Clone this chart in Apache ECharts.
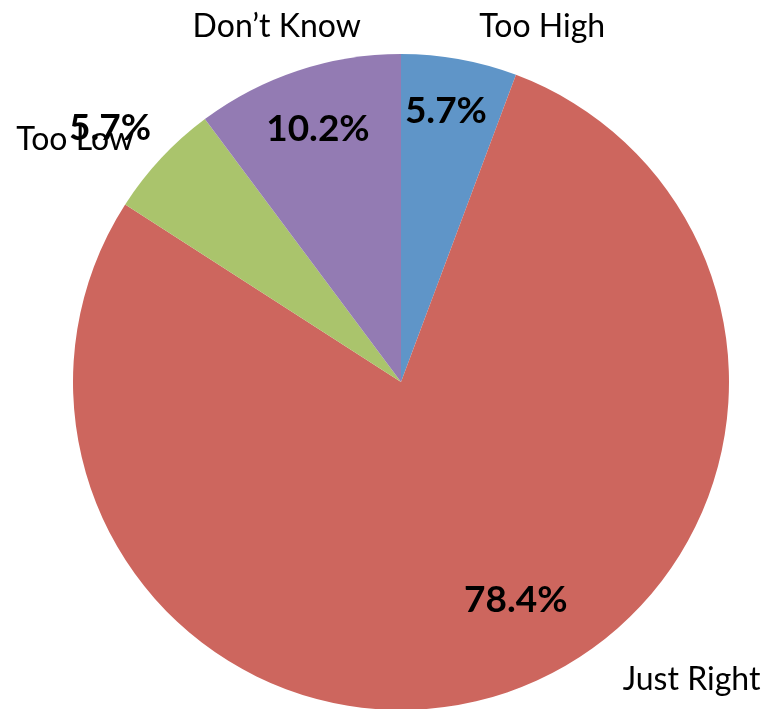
<!DOCTYPE html>
<html>
<head>
<meta charset="utf-8">
<script src="https://cdn.jsdelivr.net/npm/echarts@6/dist/echarts.min.js"></script>
<style>
html,body{margin:0;padding:0;background:#fff;}
#chart{width:771px;height:709px;}
</style>
</head>
<body>
<div id="chart"></div>
<script>
// Data
const categories = ['Too High', 'Just Right', 'Too Low', "Don\u2019t Know"];
const values = [5.7, 78.4, 5.7, 10.2];
const percentLabels = ['5.7%', '78.4%', '5.7%', '10.2%'];

// Style
const colors = ['#5F95C8', '#CD665E', '#AAC46C', '#937BB3'];
const center = [401, 382];
const radius = 328;
// label placement, polar: angle clockwise from top (deg), distance (px)
const nameAngle = [21.7, 135.7, 306.6, 340.7];
const nameDist = [382, 416, 406, 376];
const pctAngle = [9.4, 152.2, 311.1, 341.8];
const pctDist = [275, 246, 386, 266];

function polar(a, d) {
  const r = a * Math.PI / 180;
  return { x: center[0] + d * Math.sin(r), y: center[1] - d * Math.cos(r) };
}

const chart = echarts.init(document.getElementById('chart'));
const baseData = categories.map((c, i) => ({
  name: c, value: values[i], itemStyle: { color: colors[i] }
}));

chart.setOption({
  animation: false,
  series: [
    {
      type: 'pie',
      center: center,
      radius: radius,
      startAngle: 90,
      clockwise: true,
      data: baseData,
      label: {
        show: true,
        formatter: '{b}',
        fontFamily: 'Lato',
        fontSize: 32,
        color: '#000',
        overflow: 'none',
        width: 300
      },
      labelLine: { show: false },
      labelLayout: function (p) {
        const pt = polar(nameAngle[p.dataIndex], nameDist[p.dataIndex]);
        return { x: pt.x, y: pt.y, align: 'center', verticalAlign: 'middle' };
      },
      emphasis: { disabled: true }
    },
    {
      type: 'pie',
      center: center,
      radius: radius,
      startAngle: 90,
      clockwise: true,
      silent: true,
      z: 3,
      data: categories.map((c, i) => ({
        name: c, value: values[i], itemStyle: { color: 'rgba(0,0,0,0)' }
      })),
      label: {
        show: true,
        formatter: function (p) { return percentLabels[p.dataIndex]; },
        fontFamily: 'Lato',
        fontWeight: 'bold',
        fontSize: 37,
        color: '#000',
        overflow: 'none',
        width: 300
      },
      labelLine: { show: false },
      labelLayout: function (p) {
        const pt = polar(pctAngle[p.dataIndex], pctDist[p.dataIndex]);
        return { x: pt.x, y: pt.y, align: 'center', verticalAlign: 'middle' };
      },
      emphasis: { disabled: true }
    }
  ]
});
</script>
</body>
</html>
